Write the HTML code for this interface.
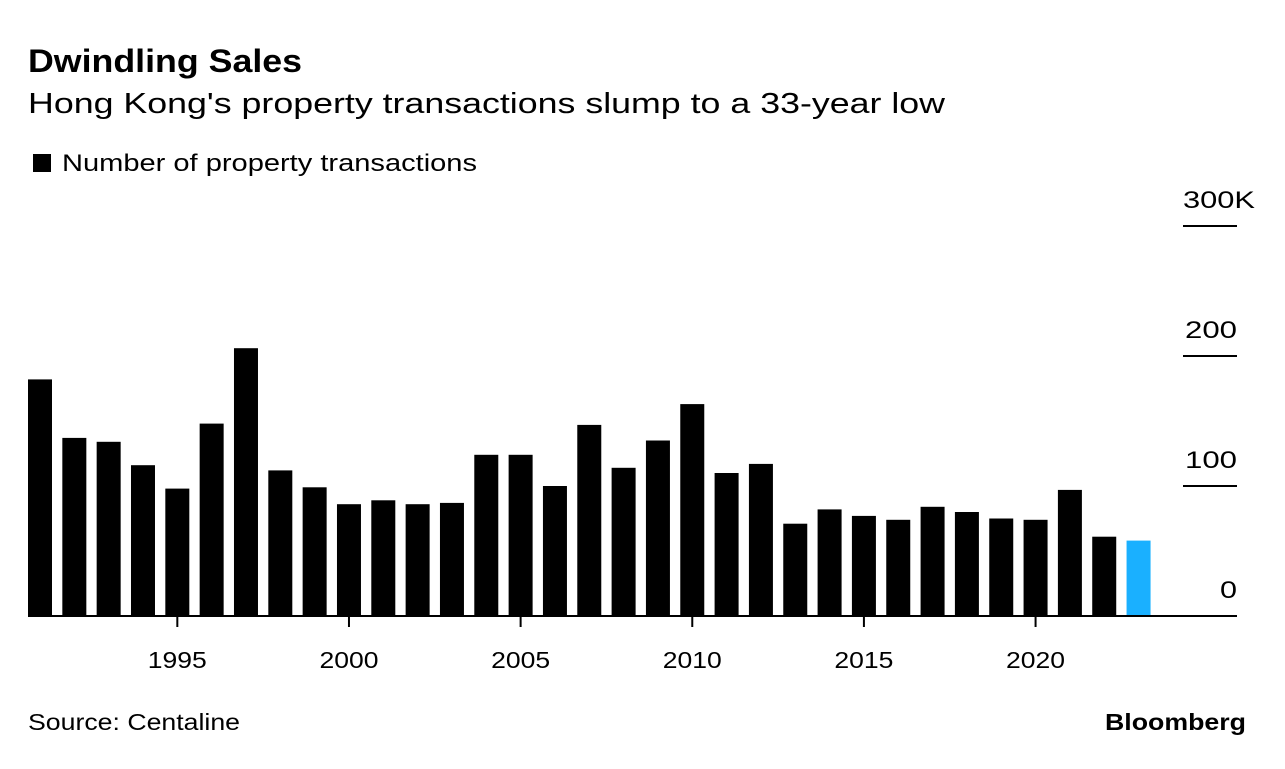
<!DOCTYPE html>
<html><head><meta charset="utf-8"><style>
body{margin:0;background:#fff;font-family:"Liberation Sans",sans-serif;}
svg text{font-family:"Liberation Sans",sans-serif;}
</style></head><body>
<svg width="1285" height="764">
<text x="28" y="72" font-size="32" font-weight="bold" fill="#000" textLength="274" lengthAdjust="spacingAndGlyphs">Dwindling Sales</text>
<text x="28" y="113" font-size="29" fill="#000" textLength="917" lengthAdjust="spacingAndGlyphs">Hong Kong's property transactions slump to a 33-year low</text>
<rect x="33" y="154" width="18" height="18" fill="#000"/>
<text x="62" y="171" font-size="24" fill="#000" textLength="415" lengthAdjust="spacingAndGlyphs">Number of property transactions</text>
<g id="plot"></g>
<text x="28" y="730" font-size="23" fill="#000" textLength="212" lengthAdjust="spacingAndGlyphs">Source: Centaline</text>
<text x="1246" y="730" font-size="23" font-weight="bold" text-anchor="end" fill="#000" textLength="141" lengthAdjust="spacingAndGlyphs">Bloomberg</text>
</svg>
<script>
const years=[1991,1992,1993,1994,1995,1996,1997,1998,1999,2000,2001,2002,2003,2004,2005,2006,2007,2008,2009,2010,2011,2012,2013,2014,2015,2016,2017,2018,2019,2020,2021,2022,2023];
const values=[182,137,134,116,98,148,206,112,99,86,89,86,87,124,124,100,147,114,135,163,110,117,71,82,77,74,84,80,75,74,97,61,58];
const yTicks=[0,100,200,300];
const yTickLabels=["0","100","200","300K"];
const xTicks=[1995,2000,2005,2010,2015,2020];
const NS="http://www.w3.org/2000/svg";
const g=document.getElementById('plot');
const x=yr=>40+(yr-1991)*34.33;
const y=v=>616-v*1.30;
function mk(t,a){const e=document.createElementNS(NS,t);for(const k in a)e.setAttribute(k,a[k]);g.appendChild(e);return e;}
yTicks.forEach((t,i)=>{
  if(t>0){const l=mk('line',{x1:1183,x2:1237,y1:y(t),y2:y(t),stroke:'#000','stroke-width':2});
  
  }
  const lab=yTickLabels[i];
  const w=lab.length===4?72:(lab.length===3?52:17);
  const ax=lab.length===4?1255:1237;
  const tx=mk('text',{x:ax,y:y(t)-18,'font-size':24,'text-anchor':'end',fill:'#000',textLength:w,lengthAdjust:'spacingAndGlyphs'});
  tx.textContent=lab;
  
  
});
years.forEach((yr,i)=>{
  const r=mk('rect',{x:x(yr)-12,y:y(values[i]),width:24,height:y(0)-y(values[i]),fill:yr===2023?'#1ab0ff':'#000'});
  
  
});
const base=mk('line',{x1:28,x2:1237,y1:y(0),y2:y(0),stroke:'#000','stroke-width':2});


xTicks.forEach(t=>{
  const l=mk('line',{x1:x(t),x2:x(t),y1:y(0),y2:y(0)+11,stroke:'#000','stroke-width':2});
  
  
  const tx=mk('text',{x:x(t),y:668,'font-size':23,'text-anchor':'middle',fill:'#000',textLength:59,lengthAdjust:'spacingAndGlyphs'});
  tx.textContent=t;
  
  
});
</script>
</body></html>
